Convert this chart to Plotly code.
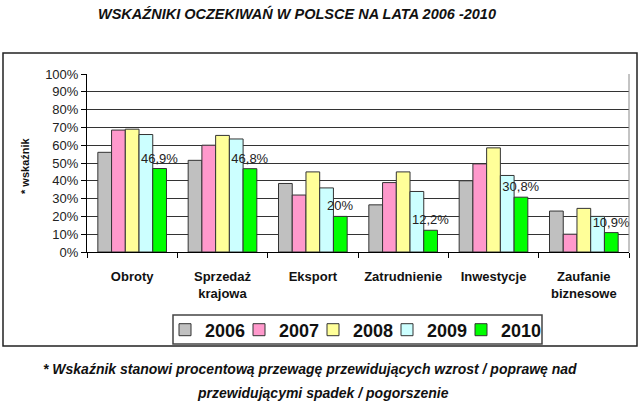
import plotly.graph_objects as go

categories = ["Obroty", "Sprzedaż<br>krajowa", "Eksport", "Zatrudnienie", "Inwestycje", "Zaufanie<br>biznesowe"]
years = ["2006", "2007", "2008", "2009", "2010"]
v2006 = [56, 51.5, 38.5, 26.5, 40, 23]
v2007 = [68.5, 60, 32, 39, 49.5, 10]
v2008 = [69, 65.5, 45, 45, 58.5, 24.5]
v2009 = [66, 63.5, 36, 34, 43, 20]
v2010 = [46.9, 46.8, 20, 12.2, 30.8, 10.9]
series = [v2006, v2007, v2008, v2009, v2010]
colors = ["#C0C0C0", "#FF99CC", "#FFFF99", "#CCFFFF", "#00FF00"]
tick_vals = list(range(0, 101, 10))
tick_text = [f"{v}%" for v in tick_vals]

FONT = "Arial, 'Liberation Sans', sans-serif"

W, H = 640, 407
L, R, T, B = 87, 11, 74, 155
PX0, PX1, PY0, PY1 = L, W - R, T, H - B  # plot area pixels


def px_to_paper_x(px):
    return (px - PX0) / (PX1 - PX0)


def px_to_paper_y(py):
    return (PY1 - py) / (PY1 - PY0)


fig = go.Figure()
for yr, vals, col in zip(years, series, colors):
    is_last = yr == years[-1]
    labels = [f"{v:g}".replace(".", ",") + "%" for v in vals] if is_last else None
    fig.add_trace(go.Bar(
        name=yr, x=categories, y=vals,
        marker=dict(color=col, line=dict(color="#333333", width=1)),
        text=labels,
        textposition="outside" if is_last else "none",
        textfont=dict(family=FONT, size=13, color="#222222"),
        constraintext="none",
        cliponaxis=False,
    ))

# invisible spacer entry so the last legend label is not clipped
fig.add_trace(go.Scatter(
    x=[None], y=[None], mode="markers", name=" ",
    marker=dict(opacity=0, color="white"), hoverinfo="skip", showlegend=True,
))

fig.update_layout(
    width=W, height=H,
    margin=dict(l=L, r=R, t=T, b=B),
    paper_bgcolor="white", plot_bgcolor="white",
    barmode="group", bargap=0.24, bargroupgap=0,
    font=dict(family=FONT, color="#111111"),
    title=dict(
        text="<b><i>WSKAŹNIKI OCZEKIWAŃ W POLSCE NA LATA 2006 -2010</i></b>",
        x=297 / W, xanchor="center", y=1 - 14 / H, yanchor="middle",
        font=dict(family=FONT, size=14.5, color="#111111"),
    ),
    xaxis=dict(
        showline=True, linecolor="#000000", linewidth=1,
        ticks="outside", ticklen=5, tickcolor="#000000", tickson="boundaries",
        tickfont=dict(family=FONT, size=13, color="#111111", weight="bold"),
        ticklabelstandoff=12,
        showgrid=False,
    ),
    yaxis=dict(
        range=[0, 100], tickmode="array", tickvals=tick_vals, ticktext=tick_text,
        showline=True, linecolor="#000000", linewidth=1,
        ticks="outside", ticklen=5, tickcolor="#000000",
        tickfont=dict(family=FONT, size=13, color="#222222"),
        showgrid=True, gridcolor="#333333", gridwidth=1.3,
        zeroline=False,
    ),
    legend=dict(
        orientation="h", x=px_to_paper_x(165), xanchor="left",
        y=px_to_paper_y(330), yanchor="middle",
        font=dict(family=FONT, size=18, color="#111111", weight="bold"),
        borderwidth=0, bgcolor="rgba(0,0,0,0)",
        itemwidth=30, entrywidth=29, entrywidthmode="pixels",
    ),
    showlegend=True,
)

shapes = [
    # outer chart border
    dict(type="rect", xref="paper", yref="paper",
         x0=px_to_paper_x(3), x1=px_to_paper_x(637),
         y0=px_to_paper_y(346), y1=px_to_paper_y(53),
         line=dict(color="#222222", width=1.5), layer="below"),
    # legend frame
    dict(type="rect", xref="paper", yref="paper",
         x0=px_to_paper_x(173), x1=px_to_paper_x(542),
         y0=px_to_paper_y(344), y1=px_to_paper_y(315),
         line=dict(color="#444444", width=1.5), fillcolor="white", layer="below"),
    # right edge of plot area
    dict(type="line", xref="paper", yref="paper", x0=1, x1=1, y0=0, y1=1,
         line=dict(color="#888888", width=1)),
]
fig.update_layout(shapes=shapes)

annotations = [
    dict(text="<b>* wskaźnik</b>", xref="paper", yref="paper",
         x=px_to_paper_x(25), y=px_to_paper_y(166), textangle=-90,
         showarrow=False, font=dict(family=FONT, size=11, color="#111111"),
         xanchor="center", yanchor="middle"),
    dict(text="<b><i>* Wskaźnik stanowi procentową przewagę przewidujących wzrost / poprawę nad</i></b>",
         xref="paper", yref="paper", x=px_to_paper_x(310), y=px_to_paper_y(369),
         showarrow=False, font=dict(family=FONT, size=14, color="#111111"),
         xanchor="center", yanchor="middle"),
    dict(text="<b><i>przewidującymi spadek / pogorszenie</i></b>",
         xref="paper", yref="paper", x=px_to_paper_x(323), y=px_to_paper_y(393),
         showarrow=False, font=dict(family=FONT, size=14, color="#111111"),
         xanchor="center", yanchor="middle"),
]
fig.update_layout(annotations=annotations)

fig.write_html("out.html")
